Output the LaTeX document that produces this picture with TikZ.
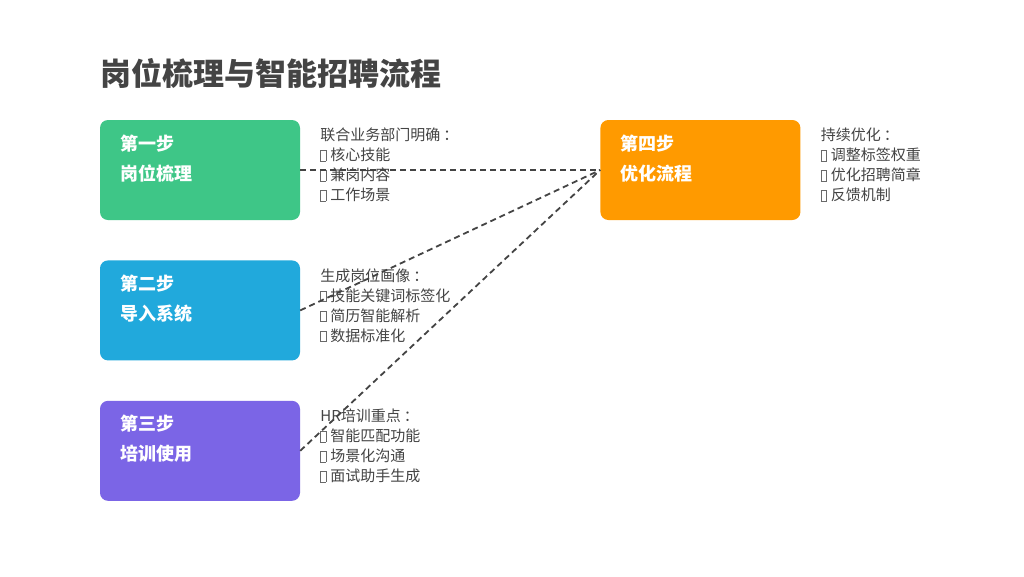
\documentclass[tikz,border=0pt]{standalone}
\usepackage{fontspec}
\setmainfont{Noto Sans CJK SC}
\usepackage{tikz}
\usetikzlibrary{positioning}

\definecolor{stepgreen}{HTML}{3EC687}
\definecolor{stepblue}{HTML}{21A9DC}
\definecolor{steppurple}{HTML}{7B65E6}
\definecolor{steporange}{HTML}{FF9A00}
\definecolor{textgray}{HTML}{444444}
% hollow box that stands in for the missing bullet glyph
\newcommand{\bul}{{\setlength{\fboxsep}{0pt}\setlength{\fboxrule}{0.7pt}%
  \color{textgray!80}\raisebox{0pt}{\fbox{\rule{0pt}{10pt}\hspace{4.6pt}}}}\hspace{4pt}}
\newcommand{\fwcolon}{\hspace{3pt}：}

\begin{document}
\begin{tikzpicture}[x=1pt,y=-1pt,node distance=40pt,
  stage box/.style={rectangle,rounded corners=8pt,draw=none,text=white,
        font=\fontsize{18}{30}\selectfont\bfseries,align=left,text width=160pt,
        inner xsep=20pt,inner ysep=0pt,text height=30pt,text depth=70pt},
  desc node/.style={text=textgray,font=\fontsize{15}{20}\selectfont,
        align=left,text width=160pt,inner sep=0pt},
  title node/.style={text=textgray,font=\fontsize{31}{31}\selectfont\bfseries,inner sep=0pt},
  link/.style={draw=textgray,line width=1.8pt,dash pattern=on 6pt off 4pt}]
  \useasboundingbox[fill=white] (0,0) rectangle (1024,576);

  \node[stage box,fill=stepgreen]  (step1) at (200,170) {第一步\\岗位梳理};
  \node[stage box,fill=stepblue]   (step2) [below=of step1] {第二步\\导入系统};
  \node[stage box,fill=steppurple] (step3) [below=of step2] {第三步\\培训使用};
  \node[stage box,fill=steporange] (step4) [right=300pt of step1] {第四步\\优化流程};

  \node[title node] (title) [above right=34pt and 0pt of step1.north west,anchor=base west] {岗位梳理与智能招聘流程};

  \node[desc node] (desc1) [below right=21pt and 20pt of step1.north east,anchor=base west]
    {联合业务部门明确\fwcolon\\\bul 核心技能\\\bul 兼岗内容\\\bul 工作场景};
  \node[desc node] (desc2) [below right=21pt and 20pt of step2.north east,anchor=base west]
    {生成岗位画像\fwcolon\\\bul 技能关键词标签化\\\bul 简历智能解析\\\bul 数据标准化};
  \node[desc node] (desc3) [below right=21pt and 20pt of step3.north east,anchor=base west]
    {HR培训重点\fwcolon\\\bul 智能匹配功能\\\bul 场景化沟通\\\bul 面试助手生成};
  \node[desc node] (desc4) [below right=21pt and 20pt of step4.north east,anchor=base west]
    {持续优化\fwcolon\\\bul 调整标签权重\\\bul 优化招聘简章\\\bul 反馈机制};

  \path[link]
    (step1.east) edge (step4.west)
    (step2.east) edge (step4.west)
    (step3.east) edge (step4.west);
\end{tikzpicture}
\end{document}
